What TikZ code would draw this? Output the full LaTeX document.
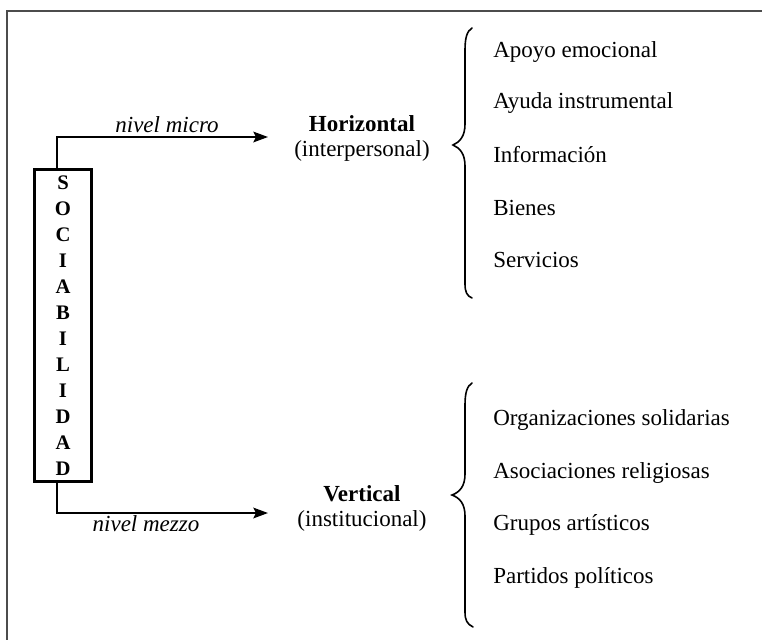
\documentclass[tikz,border=0pt]{standalone}
\usepackage{fontspec}
\setmainfont{Liberation Serif}
\usetikzlibrary{arrows.meta}
\begin{document}
\begin{tikzpicture}[x=0.75pt,y=-0.75pt,
  txt/.style={inner sep=0pt, font=\fontsize{17.25}{16}\selectfont},
  item/.style={txt, anchor=base west},
  head/.style={inner sep=0pt, anchor=base, font=\fontsize{17.25}{16}\selectfont\bfseries},
  sub/.style={inner sep=0pt, anchor=base, font=\fontsize{17.25}{16}\selectfont},
  lbl/.style={inner sep=0pt, anchor=base, font=\fontsize{17.25}{16}\selectfont\itshape},
  arr/.style={line width=1.5pt, -{Stealth[length=11pt,width=8pt,inset=2pt]}},
  brc/.style={line width=1.2pt, line cap=round},
  frame/.style={line width=1.6pt, draw=black!70},
  sbox/.style={draw, line width=2.2pt, minimum width=42.75pt, minimum height=234pt,
    inner sep=0pt, align=center, font=\fontsize{15.5}{19.5}\selectfont\bfseries}]
\useasboundingbox (0,0) rectangle (762,640);
\fill[white] (0,0) rectangle (762,640);
% frame
\coordinate (fa) at (762,11);
\coordinate (fb) at (7,11);
\coordinate (fc) at (7,640);
\draw[frame] (fa) -- (fb) -- (fc);
% box
\node[sbox] (box) at (63,325.5) {S\\O\\C\\I\\A\\B\\I\\L\\I\\D\\A\\D};
% heads
\node[head] (hz) at (362,131) {Horizontal};
\node[sub] (ip) at (362,156) {(interpersonal)};
\node[head] (vt) at (362,501) {Vertical};
\node[sub] (in) at (362,526) {(institucional)};
% arrows
\coordinate (t1) at (268,137);
\coordinate (t2) at (268,513);
\draw[arr] ([xshift=-4.5pt]box.north) |- (t1);
\draw[arr] ([xshift=-4.5pt]box.south) |- (t2);
\node[lbl] (mi) at (167,132) {nivel micro};
\node[lbl] (me) at (146,531) {nivel mezzo};
% braces
\draw[brc] (472,28) .. controls (467,31) and (465,38) .. (465,50) -- (465,124)
  .. controls (465,136) and (460,142) .. (453,145)
  .. controls (460,148) and (465,154) .. (465,166) -- (465,284)
  .. controls (465,292) and (467,296) .. (472,298);
\draw[brc] (472,383) .. controls (467,386) and (465,393) .. (465,405) -- (465,474)
  .. controls (465,486) and (460,492) .. (452,495)
  .. controls (460,498) and (465,504) .. (465,516) -- (465,612)
  .. controls (465,620) and (467,624) .. (473,627);
% items
\node[item] (i1) at (493,57) {Apoyo emocional};
\node[item] (i2) at (493,108) {Ayuda instrumental};
\node[item] (i3) at (493,162) {Información};
\node[item] (i4) at (493,215) {Bienes};
\node[item] (i5) at (493,267) {Servicios};
\node[item] (j1) at (493,425) {Organizaciones solidarias};
\node[item] (j2) at (493,478) {Asociaciones religiosas};
\node[item] (j3) at (493,530) {Grupos artísticos};
\node[item] (j4) at (493,583) {Partidos políticos};
\end{tikzpicture}
\end{document}
